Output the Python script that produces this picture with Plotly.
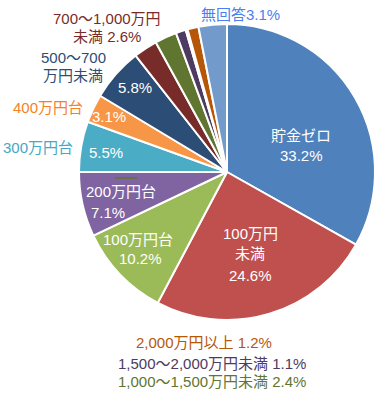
import plotly.graph_objects as go

categories = ["貯金ゼロ", "100万円未満", "100万円台", "200万円台", "300万円台", "400万円台",
              "500～700万円未満", "700～1,000万円未満", "1,000～1,500万円未満",
              "1,500～2,000万円未満", "(その他)", "2,000万円以上", "無回答"]
values = [33.2, 24.6, 10.2, 7.1, 5.5, 3.1, 5.8, 2.6, 2.4, 1.1, 0.2, 1.2, 3.1]
colors = ["#4F81BD", "#C0504D", "#9BBB59", "#8064A2", "#4BACC6", "#F79646",
          "#2C4D75", "#772C2A", "#5F7530", "#4D3B62", "#276A7C", "#B65708", "#729ACA"]

W, H = 381, 395
cx, cy, r = 227, 172, 148

fig = go.Figure(go.Pie(
    labels=categories, values=values, sort=False, direction="clockwise", rotation=0,
    marker=dict(colors=colors, line=dict(color="white", width=2)),
    textinfo="none", hoverinfo="label+percent", showlegend=False,
    domain=dict(x=[(cx - r) / W, (cx + r) / W], y=[(H - cy - r) / H, (H - cy + r) / H]),
))

FONT = "Liberation Sans, Noto Sans CJK JP, sans-serif"

def pct(i):
    return f"{values[i]:.1f}%"

def ann(text, x, y, color, size=15, anchor="center"):
    fig.add_annotation(text=text, x=x / W, y=1 - y / H, xref="paper", yref="paper",
                       showarrow=False, xanchor=anchor, yanchor="middle",
                       font=dict(family=FONT, size=size, color=color))

# inside labels (white)
ann("貯金ゼロ", 301, 135, "white")
ann(pct(0), 301, 155, "white")
ann("100万円", 250, 233, "white")
ann("未満", 250, 253, "white")
ann(pct(1), 250, 275, "white")
ann("100万円台", 138, 239, "white")
ann(pct(2), 140, 258, "white")
ann("200万円台", 84, 192, "white", anchor="left")
ann(pct(3), 89, 212, "white", anchor="left")
ann(pct(4), 106, 152, "white")
ann(pct(5), 109, 116, "white")
ann(pct(6), 135, 88, "white")

# outside labels
ann("300万円台", 38, 147, "#45A8C4")
ann("400万円台", 48, 107, "#F5821F")
ann("500～700", 73, 57, "#2C4D75")
ann("万円未満", 73, 75, "#2C4D75")
ann("700～1,000万円", 107, 18, "#772C2A")
ann("未満 " + pct(7), 107, 36, "#772C2A")
ann("無回答" + pct(12), 240, 15, "#4A7FF0")
ann("2,000万円以上 " + pct(11), 204, 342, "#B65708", size=15)
ann("1,500～2,000万円未満 " + pct(9), 212, 363, "#4D3B62", size=15)
ann("1,000～1,500万円未満 " + pct(8), 212, 381, "#5F7530", size=15)

# small stray line seen inside the 200万円台 slice
fig.add_shape(type="line", x0=115 / W, x1=137 / W, y0=1 - 178 / H, y1=1 - 178 / H,
              xref="paper", yref="paper", line=dict(color="#5F7530", width=1.5))

fig.update_layout(width=W, height=H, margin=dict(l=0, r=0, t=0, b=0),
                  paper_bgcolor="white", plot_bgcolor="white")
fig.write_html("out.html", config={"displayModeBar": False},
               post_script="document.body.style.margin='0';")
